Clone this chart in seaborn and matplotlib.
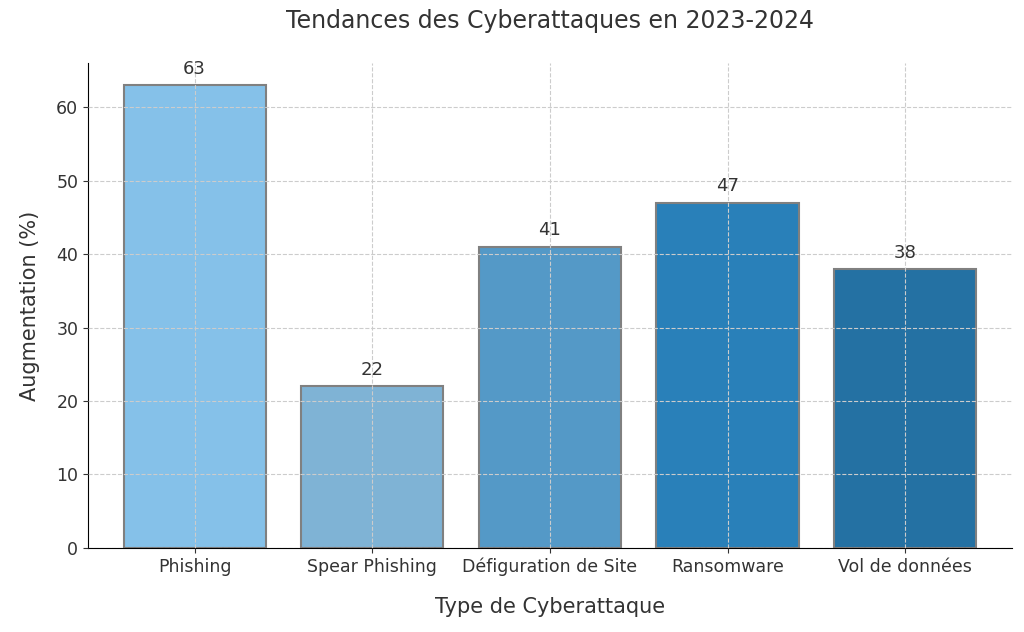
import matplotlib
matplotlib.use("Agg")
import matplotlib.pyplot as plt
import seaborn as sns
import pandas as pd

categories = ["Phishing", "Spear Phishing", "Défiguration de Site", "Ransomware", "Vol de données"]
values = [63, 22, 41, 47, 38]
colors = ["#85C1E9", "#7FB3D5", "#5499C7", "#2980B9", "#2471A3"]

df = pd.DataFrame({"cat": categories, "val": values})
fig, ax = plt.subplots(figsize=(10.24, 6.32), dpi=100)
fig.subplots_adjust(left=0.086, right=0.988, top=0.9, bottom=0.133)
sns.barplot(data=df, x="cat", y="val", hue="cat", palette=colors, legend=False,
            edgecolor="#808080", linewidth=1.5, width=0.8, saturation=1, ax=ax)
ax.set_axisbelow(False)
ax.grid(True, linestyle="--", color="#cccccc", linewidth=0.8)
for i, v in enumerate(values):
    ax.text(i, v + 1, str(v), ha="center", va="bottom", fontsize=13, color="#333333")
ax.set_ylim(0, 66)
ax.set_xlim(-0.6, 4.6)
ax.set_title("Tendances des Cyberattaques en 2023-2024", fontsize=17, color="#333333", pad=25)
ax.set_xlabel("Type de Cyberattaque", fontsize=15, color="#333333", labelpad=15)
ax.set_ylabel("Augmentation (%)", fontsize=15, color="#333333", labelpad=12)
ax.tick_params(labelsize=12.5, colors="#333333")
sns.despine(ax=ax)
fig.savefig("out.png", dpi=100)
